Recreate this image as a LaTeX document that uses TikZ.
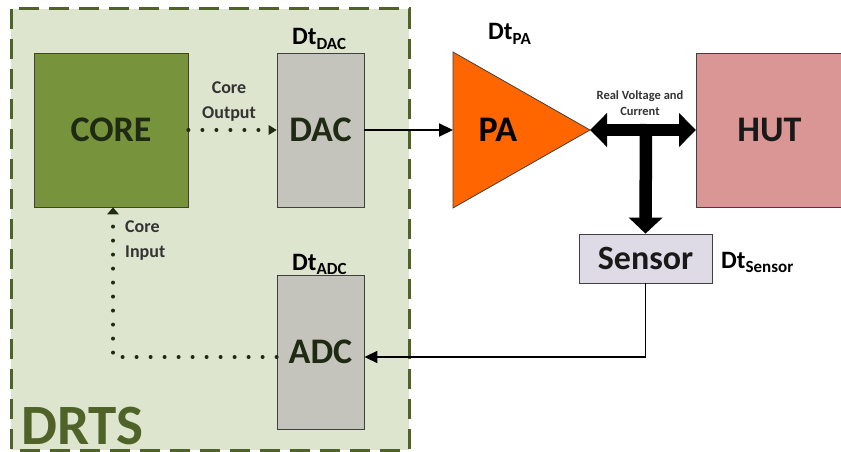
\documentclass[tikz,border=0pt]{standalone}
\usepackage{fontspec}
\setmainfont{Carlito}
\usetikzlibrary{arrows.meta,calc}
\definecolor{drtsbg}{HTML}{DEE5CF}
\definecolor{drtsline}{HTML}{4F6228}
\definecolor{corefill}{HTML}{77933C}
\definecolor{convfill}{HTML}{C4C4BC}
\definecolor{pafill}{HTML}{FF6600}
\definecolor{hutfill}{HTML}{D99694}
\definecolor{sensfill}{HTML}{DEDAE6}
\definecolor{darkol}{HTML}{1F2A12}
\definecolor{lblgray}{HTML}{333333}
\newcommand{\fsz}[2]{\fontsize{#1}{#2}\selectfont}
\newcommand{\dtlab}[1]{Dt{\fsz{17}{17}\raisebox{-4.5pt}{#1}}}
\begin{document}
\begin{tikzpicture}[x=1pt,y=-1pt,
  blk/.style={draw=black!75, line width=0.8pt, inner sep=0pt, font=\bfseries\fsz{36}{40}},
  dtlabel/.style={font=\bfseries\fsz{25}{28}, text=black, inner sep=0pt, anchor=base west},
  smalllbl/.style={font=\bfseries\fsz{18}{25}, text=lblgray, inner sep=0pt, align=center},
  dotline/.style={line width=4pt, line cap=round, dash pattern=on 0pt off 14pt, color=darkol},
  thinarrow/.style={-{Triangle[width=13pt,length=14pt]}, color=black},
  thick/.style={line width=12.5pt, color=black}
]
\useasboundingbox (0,0) rectangle (841,452);
% DRTS container
\draw[fill=drtsbg, draw=drtsline, line width=3pt, dash pattern=on 20pt off 10pt] (11,9) rectangle (409,450);
\node[font=\bfseries\fsz{57}{60}, text=drtsline, anchor=base west, inner sep=0pt, text depth=0pt] (drts) at (21,444) {DRTS};
% blocks
\node[blk, fill=corefill, text=darkol, minimum width=154pt, minimum height=154pt] (core) at (111,130) {CORE};
\node[blk, fill=convfill, text=darkol, minimum width=87pt, minimum height=154pt] (dac) at (320.5,130) {DAC};
\node[blk, fill=convfill, text=darkol, minimum width=87pt, minimum height=154pt] (adc) at (320.5,352) {ADC};
\node[blk, fill=hutfill, text=black!90, minimum width=146pt, minimum height=154pt, anchor=west] (hut) at (696,130) {HUT};
\node[blk, fill=sensfill, text=black!90, minimum width=133pt, minimum height=49pt, font=\bfseries\fsz{34}{36}] (sensor) at (645.5,258.5) {Sensor};
% PA triangle
\coordinate (paL) at (453,130);
\coordinate (paTip) at (590,130);
\draw[fill=pafill, draw=black!75, line width=0.8pt] (453,52) -- (paTip) -- (453,208) -- cycle;
\node[font=\bfseries\fsz{36}{40}, text=black, inner sep=0pt] (pa) at (498,130) {PA};
% Dt labels
\node[dtlabel] (dtdac) at (292,45) {\dtlab{DAC}};
\node[dtlabel] (dtadc) at (292,270) {\dtlab{ADC}};
\node[dtlabel] (dtpa) at (488,40) {\dtlab{PA}};
\node[dtlabel] (dtsens) at (721,268) {\dtlab{Sensor}};
% labels
\node[smalllbl] (coreout) at (229,102) {Core\\Output};
\node[smalllbl, align=left, anchor=north west] (corein) at (125,220) {Core\\Input};
\node[font=\bfseries\fsz{12.5}{16}, text=lblgray, inner sep=0pt, align=center] (rvc) at (640,103) {Real Voltage and\\Current};
% connectors
\draw[dotline] (core.east) -- ([xshift=-8pt]dac.west);
\fill[darkol] (dac.west) -- ++(-8,-5) -- ++(0,10) -- cycle;
\draw[dotline] ([yshift=-5pt]adc.west) -| ([xshift=2pt,yshift=-7pt]core.south);
\fill[darkol] ([xshift=2pt]core.south) -- ++(-6,7) -- ++(12,0) -- cycle;
\draw[thinarrow, line width=2.2pt] (dac.east) -- (paL);
\draw[thick, {Triangle[width=33pt,length=17pt]}-{Triangle[width=33pt,length=17pt]}] (paTip) -- (hut.west);
\coordinate (tj) at (646,130);
\draw[thick, -{Triangle[width=33pt,length=16pt]}] ([yshift=6pt]tj) -- (sensor.north);
\draw[line width=1.5pt, -{Triangle[width=12pt,length=13pt]}] (sensor.south) |- ([yshift=-5pt]adc.east);
\end{tikzpicture}
\end{document}
